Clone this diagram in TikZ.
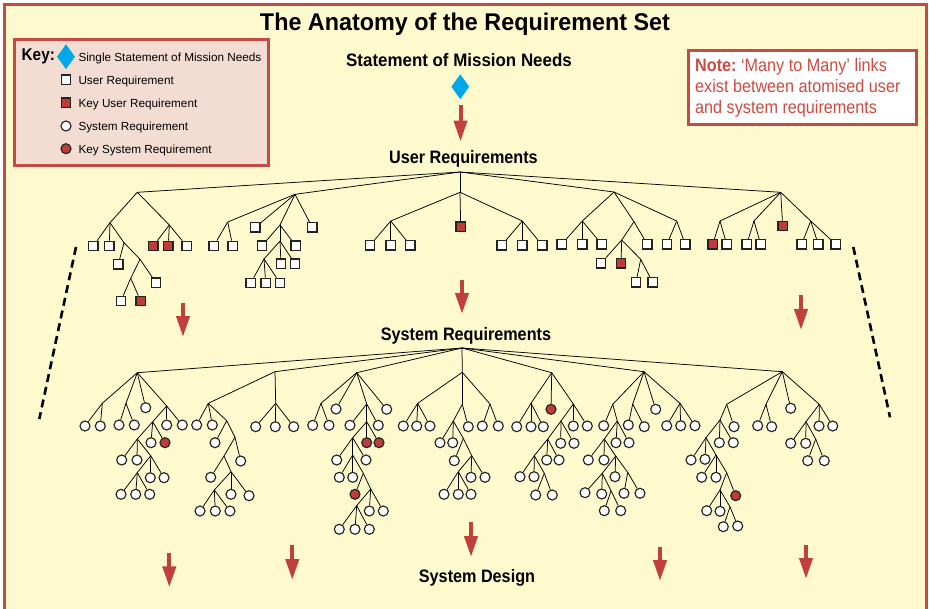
\documentclass[tikz,border=0pt]{standalone}
\usepackage{fontspec}
\setmainfont{Liberation Sans}
\newfontfamily\labelfont[FakeStretch=0.9]{Liberation Sans}
\newfontfamily\statefont[FakeStretch=0.94]{Liberation Sans}
\newfontfamily\titlefont[FakeStretch=0.965]{Liberation Sans}
\usetikzlibrary{arrows.meta,shapes.geometric}

\definecolor{paper}{RGB}{254,250,206}
\definecolor{framered}{RGB}{196,74,68}
\definecolor{keyfill}{RGB}{243,221,211}
\definecolor{keyred}{RGB}{190,60,56}
\definecolor{arrowred}{RGB}{192,65,60}
\definecolor{notetext}{RGB}{205,75,65}
\definecolor{missionblue}{RGB}{0,168,232}
\definecolor{shapeline}{RGB}{35,35,35}

% parent junction #1 gets children #1-1, #1-2, ... from a list type/x/y
\newcommand\addkids[2]{%
  \foreach \t/\x/\y [count=\i] in {#2}{%
    \edef\kidnode{\noexpand\node[\t] (#1-\i) at (\x,\y) {};}%
    \kidnode
    \draw[link] (#1) -- (#1-\i);
  }%
}

\begin{document}
\begin{tikzpicture}[x=1pt,y=-1pt,
  j/.style={coordinate},
  sq/.style={rectangle, draw=shapeline, line width=1.4pt, fill=white,
    minimum size=9.4pt, inner sep=0pt},
  ksq/.style={sq, fill=keyred},
  sr/.style={circle, draw=shapeline, line width=1.15pt, fill=white,
    minimum size=10pt, inner sep=0pt},
  ksr/.style={sr, fill=keyred},
  link/.style={line width=0.75pt, draw=black},
  mission/.style={diamond, fill=missionblue, inner sep=0pt,
    minimum width=18pt, minimum height=25pt},
  flow/.style={draw=arrowred, line width=4pt,
    -{Triangle[width=13pt,length=21pt]}},
  dashline/.style={line width=2.6pt, dash pattern=on 8pt off 5pt},
  section/.style={anchor=base, inner sep=0pt,
    font=\labelfont\bfseries\fontsize{18}{21}\selectfont},
  keytext/.style={anchor=base west, inner sep=0pt,
    font=\fontsize{11.75}{14}\selectfont},
  notetxt/.style={anchor=base west, inner sep=0pt, text=notetext,
    font=\labelfont\fontsize{18}{21}\selectfont},
]
\useasboundingbox (0,0) rectangle (929,608);
\clip (0,0) rectangle (929,608);

% page and frame
\fill[white] (0,0) rectangle (929,608);
\draw[framered, line width=3pt, fill=paper] (4,4) rectangle (926.5,660);

% title
\node[anchor=base, inner sep=0pt,
  font=\titlefont\bfseries\fontsize{24.2}{28}\selectfont]
  (title) at (465,30) {The Anatomy of the Requirement Set};

% key
\node[draw=framered, line width=3pt, fill=keyfill, minimum width=253.7pt,
  minimum height=125.4pt, inner sep=0pt] (key) at (141.65,102.5) {};
\node[anchor=base west, inner sep=0pt,
  font=\labelfont\bfseries\fontsize{17}{20}\selectfont]
  (keyword) at (21.5,60) {Key:};
\node[mission] (k1) at (66,56.7) {};
\node[sq] (k2) at (66,79.5) {};
\node[ksq] (k3) at (66,102.7) {};
\node[sr] (k4) at (66,126) {};
\node[ksr] (k5) at (66,148.7) {};
\node[keytext] (kt1) at (78.3,61.5) {Single Statement of Mission Needs};
\node[keytext] (kt2) at (78.3,84.2) {User Requirement};
\node[keytext] (kt3) at (78.3,107.2) {Key User Requirement};
\node[keytext] (kt4) at (78.3,130.2) {System Requirement};
\node[keytext] (kt5) at (78.3,153.2) {Key System Requirement};

% note
\node[draw=framered, line width=3pt, fill=white, minimum width=228pt,
  minimum height=73.7pt, inner sep=0pt] (note) at (802.8,87.65) {};
\node[notetxt] (n1) at (695,71.5) {\bfseries Note:\mdseries\ ‘Many to Many’ links};
\node[notetxt] (n2) at (695,92.7) {exist between atomised user};
\node[notetxt] (n3) at (695,113.5) {and system requirements};

% headings
\node[anchor=base, inner sep=0pt,
  font=\statefont\bfseries\fontsize{18}{21}\selectfont]
  (needs) at (459,66.5) {Statement of Mission Needs};
\node[mission] (sm) at (460.3,86.7) {};
\node[section] (ureq) at (463.5,163) {User Requirements};
\node[section] (sreq) at (466,340) {System Requirements};
\node[section] (sdes) at (477,582.3) {System Design};

% flow arrows
\coordinate (a1s) at (460.5,105);   \coordinate (a1e) at (460.5,141.5);
\coordinate (a2s) at (462,280);     \coordinate (a2e) at (462,314);
\coordinate (a3s) at (183,303);     \coordinate (a3e) at (183,337);
\coordinate (a4s) at (801,295);     \coordinate (a4e) at (801,330);
\coordinate (a5s) at (471,522);     \coordinate (a5e) at (471,557);
\coordinate (a6s) at (169.3,552.7); \coordinate (a6e) at (169.3,587.3);
\coordinate (a7s) at (292.3,545);   \coordinate (a7e) at (292.3,580);
\coordinate (a8s) at (660,547);     \coordinate (a8e) at (660,581);
\coordinate (a9s) at (806,545);     \coordinate (a9e) at (806,579);
\foreach \k in {1,...,9} \draw[flow] (a\k s) -- (a\k e);

% scope boundaries
\coordinate (dl1) at (76,247);    \coordinate (dl2) at (39.3,419);
\coordinate (dr1) at (853.3,247); \coordinate (dr2) at (890,417.3);
\draw[dashline] (dl1) -- (dl2);
\draw[dashline] (dr1) -- (dr2);

% ---------------- user requirements tree ----------------
\coordinate (U) at (460,172);
\addkids{U}{j/137.3/192.3, j/295/194.3, j/460/192.3, j/614/192, j/780.7/192.3}

\addkids{U-1}{j/110/222.7, j/169.3/225}
\addkids{U-1-1}{sq/93.3/246, sq/109.3/246, j/124/242.7}
\addkids{U-1-1-3}{sq/118.3/264.3, j/140/259.3}
\addkids{U-1-1-3-2}{sq/156/282.7, j/130.7/278.3}
\addkids{U-1-1-3-2-2}{sq/121/301, ksq/140.7/301}
\addkids{U-1-2}{ksq/153.3/246, ksq/168.3/246, sq/186.7/246}

\addkids{U-2}{j/227.7/222, sq/255.3/227.3, j/280/225, sq/312.3/227.3}
\addkids{U-2-1}{sq/213.7/246, sq/232.7/246}
\addkids{U-2-3}{sq/262/245.7, sq/295.7/245.7, j/280/241}
\addkids{U-2-3-3}{sq/281/263.7, sq/295/263.7, j/264/259}
\addkids{U-2-3-3-3}{sq/250.7/283, sq/265.7/283, sq/280/283}

\addkids{U-3}{j/390.7/221, ksq/460.7/226.7, j/522.3/221}
\addkids{U-3-1}{sq/370/245.3, sq/390.7/245.3, sq/410.3/245.3}
\addkids{U-3-3}{sq/501.7/245.3, sq/522.3/245.3, sq/542.3/245.3}

\addkids{U-4}{j/582.3/221, j/634/221.7, j/676.7/221}
\addkids{U-4-1}{sq/561.7/244.3, sq/582.3/244.3, sq/601.7/244.3}
\addkids{U-4-2}{j/621.7/240, sq/647.3/244.3}
\addkids{U-4-2-1}{sq/601/263.3, ksq/621/263.3, j/640.7/259.3}
\addkids{U-4-2-1-3}{sq/636/282.3, sq/652.7/282.3}
\addkids{U-4-3}{sq/667/244.3, sq/685.3/244.3}

\addkids{U-5}{j/720/221, j/754/221, ksq/782.7/226, j/810.7/221}
\addkids{U-5-1}{ksq/712.7/244.3, sq/726.7/244.3}
\addkids{U-5-2}{sq/746.7/244.3, sq/760.7/244.3}
\addkids{U-5-4}{sq/801.7/244.3, sq/818.3/244.3, sq/835.7/244.3}

% ---------------- system requirements tree ----------------
\coordinate (S) at (462,348);
\addkids{S}{j/137.3/372.7, j/275/371.7, j/356.7/372.7, j/462.3/372.3,
  j/551.7/372.7, j/644/371.7, j/782.3/371.7}

\addkids{S-1}{j/102.3/403.3, j/126/403.3, sr/145.7/407.7, j/166.7/406}
\addkids{S-1-1}{sr/85/426, sr/100.3/426}
\addkids{S-1-2}{sr/119/425, sr/134.3/425}
\addkids{S-1-4}{j/152.7/421.7, sr/166.7/425, sr/182.3/425}
\addkids{S-1-4-1}{j/137.3/439, sr/151/442.7, ksr/165/442.7}
\addkids{S-1-4-1-1}{sr/121.7/460, sr/137/460, j/150.7/455.7}
\addkids{S-1-4-1-1-3}{j/137.3/472.7, sr/150.3/477.7, sr/164/477.7}
\addkids{S-1-4-1-1-3-1}{sr/121/494.3, sr/135.7/494.3, sr/149.7/494.3}

\addkids{S-2}{j/208.3/403.3, j/275.7/403.3}
\addkids{S-2-1}{sr/196.7/425, sr/212.3/425, j/226.7/420.7}
\addkids{S-2-1-3}{sr/215/442.7, j/235/437.3}
\addkids{S-2-1-3-2}{j/224/456, sr/240.7/461}
\addkids{S-2-1-3-2-1}{sr/210.7/477.3, j/231/471.7}
\addkids{S-2-1-3-2-1-2}{j/214.3/490, sr/231/494.3, sr/249/495.7}
\addkids{S-2-1-3-2-1-2-1}{sr/200/511, sr/215.3/511, sr/230/511}
\addkids{S-2-2}{sr/255.7/426.7, sr/275.3/426.7, sr/293.7/426.7}

\addkids{S-3}{j/321/403.3, sr/336/409, j/366.7/404, sr/386.7/409.3}
\addkids{S-3-1}{sr/312.7/425.3, sr/329/425.3}
\addkids{S-3-3}{sr/350/425.3, j/366.7/421.7, sr/378.3/425.3}
\addkids{S-3-3-2}{j/352.7/437.7, ksr/366.7/442.7, ksr/379/442.7}
\addkids{S-3-3-2-1}{sr/336.7/460, j/352.7/455, sr/366/460}
\addkids{S-3-3-2-1-2}{sr/339.3/477.3, sr/352.7/477.3, j/363.3/473.3}
\addkids{S-3-3-2-1-2-3}{ksr/355/494.3, j/370.7/489}
\addkids{S-3-3-2-1-2-3-2}{j/356.7/505.7, sr/369.3/511, sr/383.3/511}
\addkids{S-3-3-2-1-2-3-2-1}{sr/339.3/529.3, sr/355/529.3, sr/369.3/529.3}

\addkids{S-4}{j/417.7/403.3, j/462.3/404.3, j/490/404}
\addkids{S-4-1}{sr/403.3/426, sr/416.7/426, sr/430/426}
\addkids{S-4-2}{j/453.3/421, sr/468.3/426.7}
\addkids{S-4-2-1}{sr/440/442.7, sr/452.7/442.7, j/463.3/438.3}
\addkids{S-4-2-1-3}{sr/454.3/460.7, j/471.7/455.7}
\addkids{S-4-2-1-3-2}{j/458.3/471.7, sr/471/477.3, sr/485/477.3}
\addkids{S-4-2-1-3-2-1}{sr/444/494.3, sr/458.3/494.3, sr/471/494.3}
\addkids{S-4-3}{sr/482.3/426, sr/498.3/426}

\addkids{S-5}{j/531/403.3, ksr/551/409.3, j/573.3/404}
\addkids{S-5-1}{sr/516.7/426.7, sr/531/426.7, sr/543.3/426.7}
\addkids{S-5-3}{j/561/421, sr/573.3/426, sr/587.3/426}
\addkids{S-5-3-1}{j/547.7/439, sr/560.7/443.3, sr/574/443.3}
\addkids{S-5-3-1-1}{j/534.3/455.7, sr/546.7/460, sr/559/460}
\addkids{S-5-3-1-1-1}{sr/520/476.7, sr/534/476.7, j/544.3/473.3}
\addkids{S-5-3-1-1-1-3}{sr/535.7/495, sr/552.3/495}

\addkids{S-6}{j/612.7/404.3, j/632.7/404, sr/655.7/409.3, j/680/403.3}
\addkids{S-6-1}{sr/603.7/425.7, j/617.3/421}
\addkids{S-6-1-2}{j/604.3/439, sr/616/442.7, sr/629/442.7}
\addkids{S-6-1-2-1}{sr/588.3/460, sr/604/460, j/615.7/456}
\addkids{S-6-1-2-1-3}{j/602.3/473.3, sr/615/476.7, j/627.7/472.3}
\addkids{S-6-1-2-1-3-1}{sr/585/492.7, sr/601.7/494, j/611/490.7}
\addkids{S-6-1-2-1-3-1-3}{sr/604.3/510.7, sr/620.7/510.7}
\addkids{S-6-1-2-1-3-3}{sr/624/493.3, sr/640/493.3}
\addkids{S-6-2}{sr/628.3/425, sr/644.3/426.7}
\addkids{S-6-4}{sr/666.7/425.7, sr/680.7/425.7, sr/695/425.7}

\addkids{S-7}{j/726.7/404.3, j/766/404.3, sr/790.7/408.3, j/819.3/404.3}
\addkids{S-7-1}{j/720/420, sr/734/426.7}
\addkids{S-7-1-1}{j/706/437.7, sr/719.3/442.7, sr/733.3/442.7}
\addkids{S-7-1-1-1}{sr/691/460, sr/705/459.3, j/716/455}
\addkids{S-7-1-1-1-3}{sr/701.7/477.3, sr/716/477.3, j/726.7/472.7}
\addkids{S-7-1-1-1-3-3}{j/720/490, ksr/735.7/495.7}
\addkids{S-7-1-1-1-3-3-1}{sr/706.7/510.7, sr/720/511.3, j/730/506.7}
\addkids{S-7-1-1-1-3-3-1-3}{sr/723.3/526.7, sr/737.7/526}
\addkids{S-7-2}{sr/757.7/425.7, sr/771.7/426.7}
\addkids{S-7-4}{j/806/421.7, sr/819/426, sr/832.7/426}
\addkids{S-7-4-1}{sr/790.7/443.3, sr/805.7/443.3, j/815.7/439}
\addkids{S-7-4-1-3}{sr/807.7/460.7, sr/824.3/460.7}

\end{tikzpicture}
\end{document}
